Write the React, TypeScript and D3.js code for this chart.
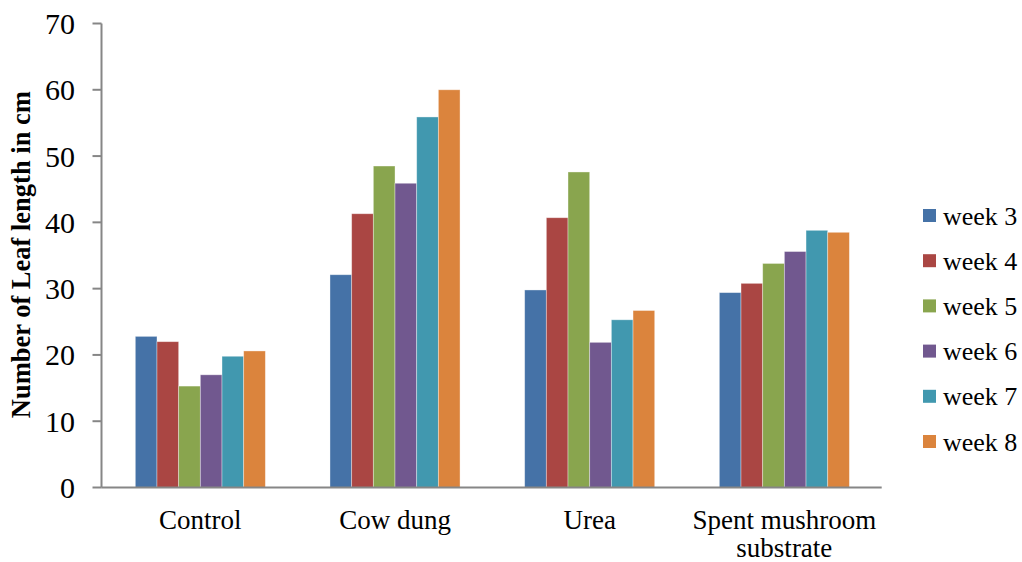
import React from "react";
import * as d3 from "d3";

// Treatments along the x axis (labels may wrap to two lines)
const categories = ["Control", "Cow dung", "Urea", "Spent mushroom substrate"];
const categoryLines = [["Control"], ["Cow dung"], ["Urea"], ["Spent mushroom", "substrate"]];

// Leaf length (cm) per week for each treatment
const week3 = [22.8, 32.1, 29.8, 29.4];
const week4 = [22.0, 41.3, 40.7, 30.8];
const week5 = [15.3, 48.5, 47.6, 33.8];
const week6 = [17.0, 45.9, 21.9, 35.6];
const week7 = [19.8, 55.9, 25.3, 38.8];
const week8 = [20.6, 60.0, 26.7, 38.5];

const seriesNames = ["week 3", "week 4", "week 5", "week 6", "week 7", "week 8"];
const seriesValues = [week3, week4, week5, week6, week7, week8];
const seriesColors = ["#4572A7", "#AA4643", "#89A54E", "#71588F", "#4198AF", "#DB843D"];

const yTicks = [0, 10, 20, 30, 40, 50, 60, 70];

const W = 1022;
const H = 562;
const FONT = '"Liberation Serif", "Times New Roman", Times, serif';

export default function App() {
  const plotLeft = 103;
  const plotRight = 881.7;
  const axisX = 101.5;
  const yTop = 23.5;
  const yBottom = 487.5;

  const y = d3.scaleLinear().domain([0, 70]).range([yBottom, yTop]);
  const x0 = d3
    .scaleBand<string>()
    .domain(categories)
    .range([plotLeft, plotRight])
    .paddingInner(0.332)
    .paddingOuter(0.166);
  const x1 = d3
    .scaleBand<string>()
    .domain(seriesNames)
    .range([0, x0.bandwidth()])
    .padding(0);

  const legendX = 923;
  const legendY0 = 215.5;
  const legendStep = 45.2;
  const textStyle = { fontFamily: FONT };

  return (
    <svg
      width={W}
      height={H}
      style={{ position: "absolute", left: 0, top: 0, display: "block", background: "#fff", fontFamily: FONT }}
    >
      {/* bars */}
      {categories.map((c, ci) => (
        <g key={c} transform={`translate(${x0(c)},0)`}>
          {seriesNames.map((s, si) => {
            const v = seriesValues[si][ci];
            return (
              <rect
                key={s}
                x={x1(s)}
                y={y(v)}
                width={x1.bandwidth()}
                height={y(0) - y(v)}
                fill={seriesColors[si]}
                stroke="rgba(255,255,255,0.45)"
                strokeWidth={0.8}
              />
            );
          })}
        </g>
      ))}

      {/* y axis */}
      <line x1={axisX} x2={axisX} y1={y(70)} y2={y(0)} stroke="#868686" strokeWidth={2} />
      {yTicks.map((t) => (
        <g key={t}>
          <line x1={axisX - 9} x2={axisX} y1={y(t)} y2={y(t)} stroke="#868686" strokeWidth={2} />
          <text
            x={75}
            y={y(t)}
            dy="0.35em"
            textAnchor="end"
            fontSize={30}
            fill="#000"
            style={textStyle}
          >
            {t}
          </text>
        </g>
      ))}

      {/* x axis */}
      <line x1={axisX} x2={plotRight} y1={y(0)} y2={y(0)} stroke="#868686" strokeWidth={2} />
      {categories.map((c, ci) => (
        <text
          key={c}
          x={(x0(c) as number) + x0.bandwidth() / 2}
          y={528.5}
          textAnchor="middle"
          fontSize={27}
          fill="#000"
          style={textStyle}
        >
          {categoryLines[ci].map((line, li) => (
            <tspan key={li} x={(x0(c) as number) + x0.bandwidth() / 2} dy={li === 0 ? 0 : 28.5}>
              {line}
            </tspan>
          ))}
        </text>
      ))}

      {/* y axis title */}
      <text
        transform={`translate(29.5,${254.7}) rotate(-90)`}
        textAnchor="middle"
        fontSize={26.5}
        fontWeight="bold"
        fill="#000"
        style={textStyle}
      >
        Number of Leaf length in cm
      </text>

      {/* legend */}
      {seriesNames.map((s, si) => {
        const cy = legendY0 + si * legendStep;
        return (
          <g key={s}>
            <rect x={legendX} y={cy - 6.5} width={13} height={13} fill={seriesColors[si]} />
            <text x={943} y={cy} dy="0.35em" fontSize={26} fill="#000" style={textStyle}>
              {s}
            </text>
          </g>
        );
      })}
    </svg>
  );
}
